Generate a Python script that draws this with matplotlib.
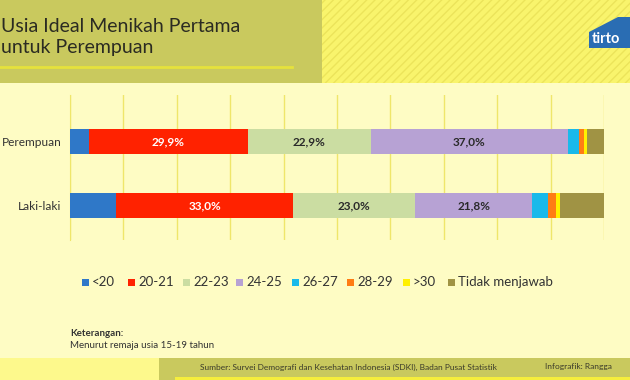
import numpy as np
import matplotlib
matplotlib.use("Agg")
import matplotlib.pyplot as plt
from matplotlib.patches import Rectangle, Polygon

plt.rcParams["font.family"] = ["Lato", "DejaVu Sans"]

# data (percent)
groups = ["Perempuan", "Laki-laki"]
categories = ["<20", "20-21", "22-23", "24-25", "26-27", "28-29", ">30", "Tidak menjawab"]
perempuan = [3.5, 29.9, 22.9, 37.0, 2.1, 0.8, 0.6, 3.2]
laki_laki = [8.7, 33.0, 23.0, 21.8, 3.1, 1.4, 0.8, 8.2]
shown_labels = ["29,9%", "22,9%", "37,0%"], ["33,0%", "23,0%", "21,8%"]

colors = ["#2f78c8", "#ff2200", "#cbdda2", "#b7a2d4", "#19b9ea", "#ff7c14", "#fff000", "#a09344"]
label_colors = {1: "white", 2: "#2a2a2a", 3: "#2a2a2a"}

W, H = 630, 380
BG = "#fefcc4"
OLIVE = "#c9c95e"


def fx(x):
    return x / W


def fy(y):
    return 1 - y / H


fig = plt.figure(figsize=(6.3, 3.8), dpi=100, facecolor=BG)

# header bands
fig.patches.append(Rectangle((0, fy(83)), fx(322), 83 / H, transform=fig.transFigure,
                             facecolor=OLIVE, edgecolor="none", zorder=0))
fig.patches.append(Rectangle((fx(322), fy(83)), 1 - fx(322), 83 / H, transform=fig.transFigure,
                             facecolor="#f9f46c", edgecolor="#ece45a", hatch="////",
                             linewidth=0, zorder=0))
fig.lines.append(plt.Line2D([0, fx(292)], [fy(67), fy(67)], transform=fig.transFigure,
                            color="#e6e23c", linewidth=2, zorder=1))
fig.text(fx(1), fy(27), "Usia Ideal Menikah Pertama", fontsize=14, color="#2b2b22",
         va="center", ha="left")
fig.text(fx(1), fy(48), "untuk Perempuan", fontsize=14, color="#2b2b22",
         va="center", ha="left")

# tirto logo
fig.patches.append(Polygon([(fx(589), fy(32)), (fx(618), fy(17)), (fx(632), fy(17)),
                            (fx(632), fy(48)), (fx(589), fy(48))], closed=True,
                           transform=fig.transFigure, facecolor="#2a6db3",
                           edgecolor="none", zorder=2))
fig.text(fx(592), fy(39), "tirto", fontsize=10.5, fontweight="bold", color="white",
         va="center", ha="left", zorder=3)

# main chart
ax = fig.add_axes([fx(70), fy(240), fx(604) - fx(70), 145 / H])
ax.set_facecolor("none")
y = np.arange(len(groups))
left = np.zeros(len(groups))
for i, cat in enumerate(categories):
    vals = np.array([perempuan[i], laki_laki[i]])
    ax.barh(y, vals, left=left, height=0.39, color=colors[i], edgecolor="none", zorder=3)
    if i in label_colors:
        for j in range(len(groups)):
            ax.text(left[j] + vals[j] / 2, y[j], shown_labels[j][i - 1], ha="center",
                    va="center", fontsize=8.5, fontweight="bold",
                    color=label_colors[i], zorder=4)
    left += vals

ax.set_xlim(0, 100)
ax.set_ylim(1.54, -0.727)
ax.set_xticks(np.arange(0, 101, 10))
ax.set_xticklabels([])
ax.tick_params(axis="x", length=0)
ax.tick_params(axis="y", length=0, pad=6, labelsize=8.6, labelcolor="#333333")
ax.set_yticks(y)
ax.set_yticklabels(groups)
ax.grid(axis="x", color="#efe66a", linewidth=1, zorder=0)
for s in ["top", "right", "bottom"]:
    ax.spines[s].set_visible(False)
ax.spines["left"].set_color("#efe66a")

# legend
leg_x = [82, 128, 183, 236, 292, 347, 403, 448]
for xpos, cat, c in zip(leg_x, categories, colors):
    fig.patches.append(Rectangle((fx(xpos), fy(286)), 7 / W, 7 / H, transform=fig.transFigure,
                                 facecolor=c, edgecolor="none"))
    fig.text(fx(xpos + 10), fy(282.5), cat, fontsize=9.5, color="#333333",
             va="center", ha="left")

# notes
fig.text(fx(70), fy(333), "Keterangan:", fontsize=7, fontweight="bold", color="#333333",
         va="center", ha="left")
fig.text(fx(70), fy(345), "Menurut remaja usia 15-19 tahun", fontsize=7, color="#333333",
         va="center", ha="left")

# footer
fig.patches.append(Rectangle((0, 0), fx(159), 22 / H, transform=fig.transFigure,
                             facecolor="#fdf98c", edgecolor="none"))
fig.patches.append(Rectangle((fx(159), 0), 1 - fx(159), 22 / H, transform=fig.transFigure,
                             facecolor=OLIVE, edgecolor="none"))
fig.patches.append(Rectangle((fx(175), 0), 1 - fx(175), 3 / H, transform=fig.transFigure,
                             facecolor="#f6ee3c", edgecolor="none"))
fig.text(fx(200), fy(367), "Sumber: Survei Demografi dan Kesehatan Indonesia (SDKI), Badan Pusat Statistik",
         fontsize=6, color="#3a3a2a", va="center", ha="left")
fig.text(fx(545), fy(367), "Infografik: Rangga", fontsize=6, color="#3a3a2a",
         va="center", ha="left")

fig.savefig("out.png", dpi=100, facecolor=BG)
